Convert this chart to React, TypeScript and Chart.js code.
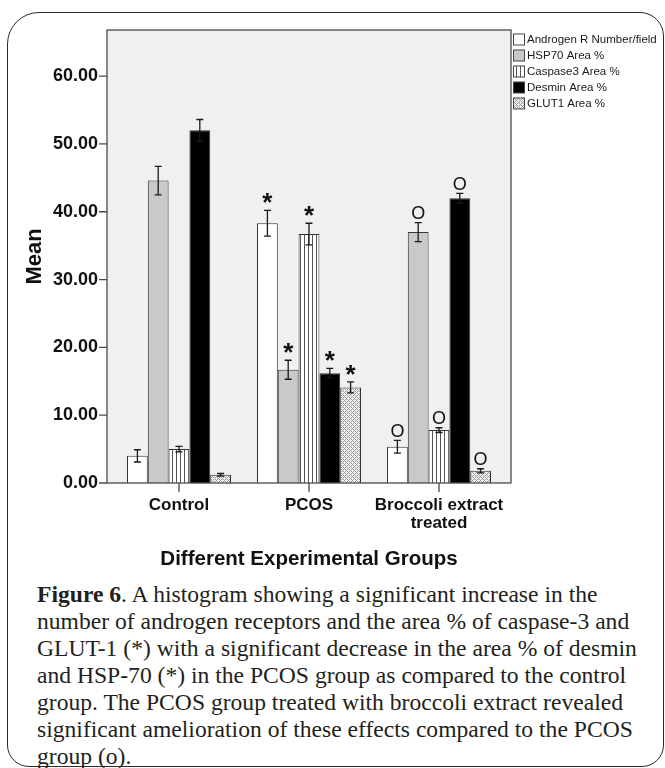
import React, { useEffect, useRef } from 'react';
import { Chart, registerables } from 'chart.js';

Chart.register(...registerables);

// ---------- data ----------
const groups: (string | string[])[] = ['Control', 'PCOS', ['Broccoli extract', 'treated']];
const seriesNames = [
  'Androgen R Number/field',
  'HSP70 Area %',
  'Caspase3 Area %',
  'Desmin Area %',
  'GLUT1 Area %',
];
const androgenMean = [4.0, 38.3, 5.35];
const androgenErr = [0.9, 1.9, 0.95];
const hsp70Mean = [44.6, 16.7, 37.0];
const hsp70Err = [2.1, 1.4, 1.4];
const caspase3Mean = [5.0, 36.7, 7.8];
const caspase3Err = [0.4, 1.6, 0.35];
const desminMean = [52.0, 16.2, 42.0];
const desminErr = [1.6, 0.7, 0.7];
const glut1Mean = [1.2, 14.1, 1.8];
const glut1Err = [0.2, 0.8, 0.3];
const groupMarkers = ['', '*', 'O'];
const yTicks = [0, 10, 20, 30, 40, 50, 60];
const yMax = 66.8;
const xTitle = 'Different Experimental Groups';
const yTitle = 'Mean';

const FONT = "'Liberation Sans', Arial, Helvetica, sans-serif";

function makePattern(kind: 'stripes' | 'hatch'): CanvasPattern | string {
  const c = document.createElement('canvas');
  c.width = 4;
  c.height = 4;
  const g = c.getContext('2d');
  if (!g) return '#ccc';
  if (kind === 'stripes') {
    g.fillStyle = '#ffffff';
    g.fillRect(0, 0, 4, 4);
    g.fillStyle = '#555555';
    g.fillRect(0, 0, 1, 4);
  } else {
    g.fillStyle = '#f2f2f2';
    g.fillRect(0, 0, 4, 4);
    g.fillStyle = '#9a9a9a';
    for (let x = 0; x < 4; x++) {
      for (let y = 0; y < 4; y++) {
        if ((x + y) % 4 === 0 || (((x - y) % 4) + 4) % 4 === 0) g.fillRect(x, y, 1, 1);
      }
    }
  }
  const p = g.createPattern(c, 'repeat');
  return p || '#ccc';
}

const FRAME_EXT = 7;

const decorPlugin = {
  id: 'figureDecor',
  beforeDraw(chart: any) {
    const { ctx, chartArea } = chart;
    ctx.save();
    ctx.fillStyle = '#f0f0f0';
    ctx.fillRect(
      chartArea.left - FRAME_EXT,
      chartArea.top,
      chartArea.right - chartArea.left + 2 * FRAME_EXT,
      chartArea.bottom - chartArea.top
    );
    ctx.restore();
  },
  afterDatasetsDraw(chart: any) {
    const { ctx, chartArea, scales } = chart;
    const yS = scales.y;
    const xS = scales.x;
    ctx.save();
    // error bars + significance markers
    chart.data.datasets.forEach((ds: any, di: number) => {
      const meta = chart.getDatasetMeta(di);
      meta.data.forEach((el: any, i: number) => {
        const v = ds.data[i];
        const e = ds.errors[i];
        const yTop = yS.getPixelForValue(v + e);
        const yBot = yS.getPixelForValue(v - e);
        ctx.strokeStyle = '#1a1a1a';
        ctx.lineWidth = 1.3;
        ctx.beginPath();
        ctx.moveTo(el.x, yTop);
        ctx.lineTo(el.x, yBot);
        ctx.moveTo(el.x - 3.5, yTop);
        ctx.lineTo(el.x + 3.5, yTop);
        ctx.moveTo(el.x - 3.5, yBot);
        ctx.lineTo(el.x + 3.5, yBot);
        ctx.stroke();
        const mk = groupMarkers[i];
        if (mk) {
          ctx.fillStyle = '#111';
          ctx.font = mk === '*' ? `bold 26px ${FONT}` : `18px ${FONT}`;
          const m = ctx.measureText(mk);
          const cy = yTop - (mk === '*' ? 12 : 10);
          const by = cy + (m.actualBoundingBoxAscent - m.actualBoundingBoxDescent) / 2;
          ctx.textAlign = 'center';
          ctx.textBaseline = 'alphabetic';
          ctx.fillText(mk, el.x, by);
        }
      });
    });
    // plot frame
    const fl = chartArea.left - FRAME_EXT;
    const fr = chartArea.right + FRAME_EXT;
    ctx.strokeStyle = '#4a4a4a';
    ctx.lineWidth = 1.3;
    ctx.strokeRect(fl, chartArea.top, fr - fl, chartArea.bottom - chartArea.top);
    // y tick marks
    ctx.beginPath();
    yTicks.forEach((v) => {
      const py = yS.getPixelForValue(v);
      ctx.moveTo(fl - 8, py);
      ctx.lineTo(fl, py);
    });
    // x tick marks
    groups.forEach((_, i) => {
      const px = xS.getPixelForValue(i);
      ctx.moveTo(px, chartArea.bottom);
      ctx.lineTo(px, chartArea.bottom + 9);
    });
    ctx.stroke();
    // legend
    const lx = fr + 2;
    chart.data.datasets.forEach((ds: any, di: number) => {
      const cy = 39.5 + di * 16;
      ctx.fillStyle = ds.backgroundColor;
      ctx.fillRect(lx, cy - 5.5, 11, 11);
      ctx.strokeStyle = '#444';
      ctx.lineWidth = 1;
      ctx.strokeRect(lx + 0.5, cy - 5.5, 11, 11);
      ctx.fillStyle = '#1a1a1a';
      ctx.font = `11.5px ${FONT}`;
      ctx.textAlign = 'left';
      ctx.textBaseline = 'middle';
      ctx.fillText(ds.label, lx + 14, cy + 0.5);
    });
    ctx.restore();
  },
};

function ChartBox() {
  const ref = useRef<HTMLCanvasElement | null>(null);
  useEffect(() => {
    if (!ref.current) return;
    Chart.defaults.font.family = FONT;
    const stripes = makePattern('stripes');
    const hatch = makePattern('hatch');
    const means = [androgenMean, hsp70Mean, caspase3Mean, desminMean, glut1Mean];
    const errs = [androgenErr, hsp70Err, caspase3Err, desminErr, glut1Err];
    const fills: any[] = ['#ffffff', '#c9c9c9', stripes, '#000000', hatch];
    const chart = new Chart(ref.current, {
      type: 'bar',
      data: {
        labels: groups as any,
        datasets: seriesNames.map((name, i) => ({
          label: name,
          data: means[i],
          errors: errs[i],
          backgroundColor: fills[i],
          borderColor: '#333333',
          borderWidth: 1,
          categoryPercentage: 0.8,
          barPercentage: 1.0,
        })) as any,
      },
      options: {
        responsive: false,
        animation: false,
        layout: { padding: { left: 0, right: 161, top: 30, bottom: 0 } },
        plugins: { legend: { display: false }, tooltip: { enabled: false } },
        scales: {
          x: {
            grid: { display: false, drawTicks: false },
            border: { display: false },
            ticks: {
              color: '#111',
              font: { size: 17, weight: 'bold', lineHeight: 1.1 },
              padding: 12.6,
              maxRotation: 0,
              autoSkip: false,
            },
            title: {
              display: true,
              text: xTitle,
              color: '#111',
              font: { size: 20.5, weight: 'bold' },
              padding: { top: 0, bottom: 8 },
            },
            afterFit: (s: any) => {
              s.height = 97;
            },
          },
          y: {
            min: 0,
            max: yMax,
            afterBuildTicks: (s: any) => {
              s.ticks = yTicks.map((v) => ({ value: v }));
            },
            grid: { display: false, drawTicks: false },
            border: { display: false },
            ticks: {
              color: '#111',
              font: { size: 18, weight: 'bold' },
              padding: 16,
              callback: (v: any) => Number(v).toFixed(2),
            },
            title: {
              display: true,
              text: yTitle,
              color: '#111',
              font: { size: 22, weight: 'bold' },
              padding: { top: 21.8, bottom: 0 },
            },
            afterFit: (s: any) => {
              s.width = 114;
            },
          },
        },
      } as any,
      plugins: [decorPlugin],
    });
    return () => chart.destroy();
  }, []);
  return (
    <canvas
      ref={ref}
      width={665}
      height={580}
      style={{ position: 'absolute', left: 0, top: 0, width: 665, height: 580 }}
    />
  );
}

export default function App() {
  useEffect(() => {
    document.body.style.overflow = 'hidden';
  }, []);
  return (
    <div style={{ position: 'absolute', left: 0, top: 0, width: 665, height: 768 }}>
      <div
        style={{
          position: 'absolute',
          left: 7,
          top: 12,
          width: 657,
          height: 755,
          boxSizing: 'border-box',
          border: '1.5px solid #2a2a2a',
          borderRadius: '32px 24px 22px 22px',
        }}
      />
      <ChartBox />
      <div
        style={{
          position: 'absolute',
          left: 37,
          top: 581,
          fontFamily: "'Liberation Serif', 'Times New Roman', serif",
          fontSize: 23.6,
          lineHeight: '27px',
          color: '#231f20',
          whiteSpace: 'nowrap',
        }}
      >
        <b>Figure 6</b>. A histogram showing a significant increase in the
        <br />
        number of androgen receptors and the area % of caspase-3 and
        <br />
        GLUT-1 (*) with a significant decrease in the area % of desmin
        <br />
        and HSP-70 (*) in the PCOS group as compared to the control
        <br />
        group. The PCOS group treated with broccoli extract revealed
        <br />
        significant amelioration of these effects compared to the PCOS
        <br />
        group (o).
      </div>
    </div>
  );
}
